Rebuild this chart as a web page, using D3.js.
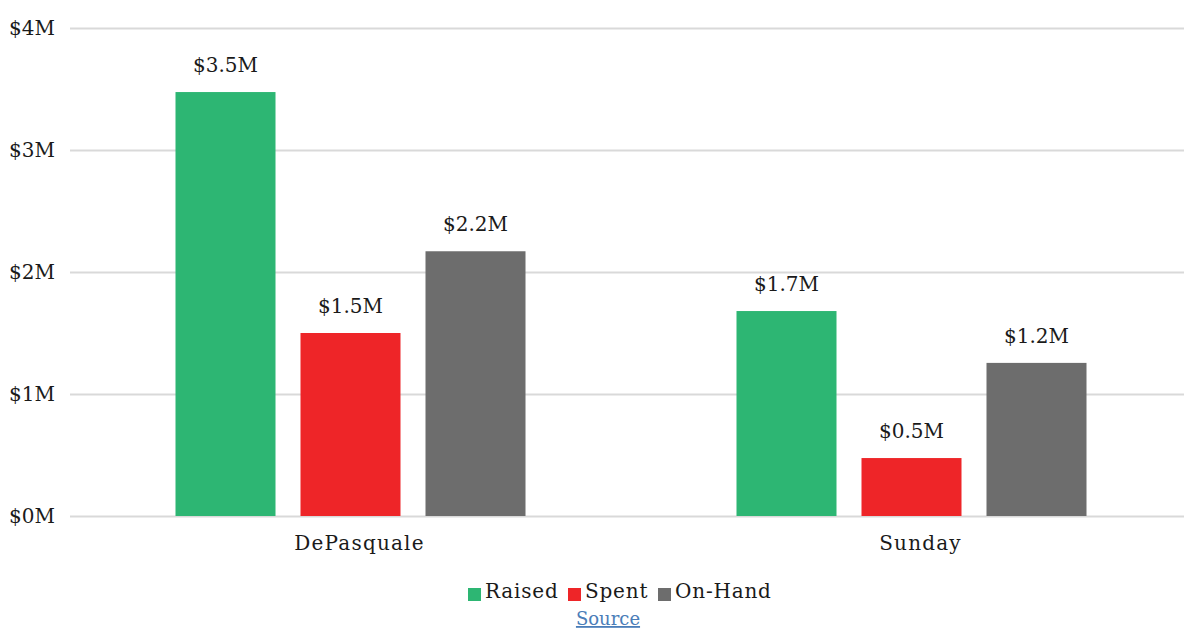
<!DOCTYPE html>
<html><head><meta charset="utf-8">
<script src="https://cdn.jsdelivr.net/npm/d3@7"></script>
<style>
html,body{margin:0;padding:0;background:#fff;}
svg{display:block;}
text{font-family:"DejaVu Serif",serif;fill:#1a1a1a;}
</style></head>
<body>
<svg id="c" width="1184" height="630"></svg>
<script>
const categories = ["DePasquale", "Sunday"];
const seriesNames = ["Raised", "Spent", "On-Hand"];
const raised = [3.475, 1.68];
const spent = [1.5, 0.475];
const onHand = [2.17, 1.255];
const valueLabels = [["$3.5M", "$1.5M", "$2.2M"], ["$1.7M", "$0.5M", "$1.2M"]];
const yTicks = [0, 1, 2, 3, 4];
const colors = ["#2db673", "#ee2528", "#6d6d6d"];

(function() {
const series = [raised, spent, onHand];
const svg = d3.select("#c");
const W = 1184;
const mLeft = 70, mRight = 1192, mTop = 28, mBottom = 516;

const x0 = d3.scaleBand().domain(categories).range([mLeft, mRight]).paddingInner(0).paddingOuter(0);
const groupInner = 350;
const x1 = d3.scaleBand().domain(seriesNames).range([0, groupInner]).paddingInner(0.2).paddingOuter(0);
const y = d3.scaleLinear().domain([0, 4]).range([mBottom, mTop]);

const yAxis = d3.axisLeft(y).tickValues(yTicks).tickSize(-(W - mLeft)).tickFormat(d => "$" + d + "M").tickPadding(14);
const gy = svg.append("g").attr("transform", `translate(${mLeft},0)`).call(yAxis);
gy.select(".domain").remove();
gy.selectAll(".tick line").attr("stroke", "#d9d9d9").attr("stroke-width", 2);
gy.selectAll(".tick text").attr("font-size", 20).attr("fill", "#1a1a1a").attr("font-family", "DejaVu Serif, serif").attr("x", -15).attr("dy", "0.32em");

const groups = svg.append("g").selectAll("g").data(categories).join("g")
  .attr("transform", d => `translate(${x0(d) + (x0.bandwidth() - groupInner) / 2},0)`);

groups.each(function(cat, ci) {
  const g = d3.select(this);
  seriesNames.forEach((s, si) => {
    const v = series[si][ci];
    g.append("rect")
      .attr("x", x1(s)).attr("width", x1.bandwidth())
      .attr("y", y(v)).attr("height", y(0) - y(v))
      .attr("fill", colors[si]);
    g.append("text")
      .attr("x", x1(s) + x1.bandwidth() / 2)
      .attr("y", y(v) - 20)
      .attr("text-anchor", "middle")
      .attr("font-size", 20)
      .text(valueLabels[ci][si]);
  });
});

const xAxis = d3.axisBottom(x0).tickSize(0).tickPadding(0);
const gx = svg.append("g").attr("transform", `translate(0,${mBottom})`).call(xAxis);
gx.select(".domain").remove();
gx.selectAll(".tick text").attr("font-size", 20).attr("fill", "#1a1a1a").attr("font-family", "DejaVu Serif, serif").attr("y", 34).attr("dy", 0).attr("dx", 9).attr("letter-spacing", "1.2px");

const legendX = [468, 568, 658];
const lg = svg.append("g");
seriesNames.forEach((name, i) => {
  lg.append("rect").attr("x", legendX[i]).attr("y", 588).attr("width", 13).attr("height", 13).attr("fill", colors[i]);
  lg.append("text").attr("x", legendX[i] + 17).attr("y", 598).attr("font-size", 20).attr("letter-spacing", "0.8px").text(name);
});

svg.append("text").attr("x", 608).attr("y", 625).attr("text-anchor", "middle")
  .attr("font-size", 18).style("fill", "#4a7db8")
  .attr("text-decoration", "underline").text("Source");
})();
</script>
</body></html>
